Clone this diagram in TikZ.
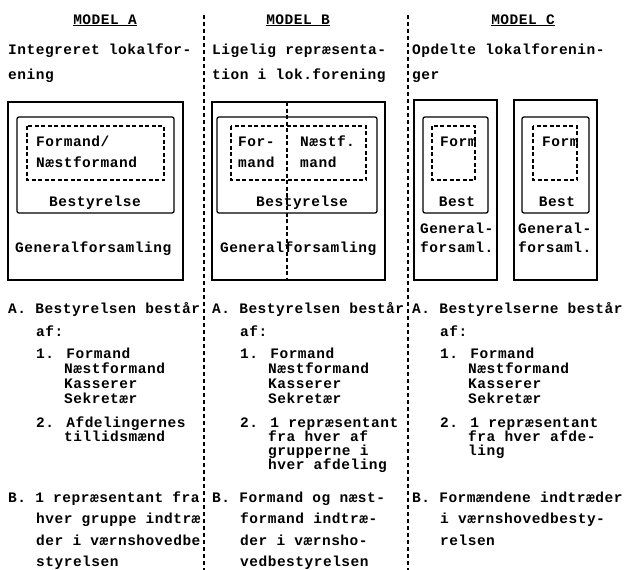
\documentclass[tikz,border=0pt]{standalone}
\usepackage{fontspec}
\setmainfont{Liberation Mono}[LetterSpace=3.5]
\newcommand\twfont{\fontsize{14.5}{14}\selectfont\bfseries}
\begin{document}
\begin{tikzpicture}[x=1pt,y=-1pt,
  txt/.style={anchor=base west, inner sep=0pt, font=\twfont},
  ctxt/.style={anchor=base, inner sep=0pt, font=\twfont},
  solidbox/.style={draw, line width=1.3pt},
  innerbox/.style={draw, line width=1.3pt, rounded corners=2pt},
  dashbox/.style={draw, line width=1.3pt, dash pattern=on 4pt off 2.5pt},
  sep/.style={line width=1.1pt, dash pattern=on 4pt off 3pt}]
\useasboundingbox (0,0) rectangle (627,570);
% column separators
\coordinate (s1t) at (204,15); \coordinate (s1b) at (204,570);
\coordinate (s2t) at (408,15); \coordinate (s2b) at (408,570);
\draw[sep] (s1t) -- (s1b);
\draw[sep] (s2t) -- (s2b);
% titles
\node[ctxt] (tA) at (105,24) {\underline{MODEL A}};
\node[ctxt] (tB) at (298,24) {\underline{MODEL B}};
\node[ctxt] (tC) at (523,24) {\underline{MODEL C}};
\node[txt] (hA1) at (8,54) {Integreret lokalfor-};
\node[txt] (hA2) at (8,79) {ening};
\node[txt] (hB1) at (212,54) {Ligelig repræsenta-};
\node[txt] (hB2) at (212,79) {tion i lok.forening};
\node[txt] (hC1) at (412,54) {Opdelte lokalforenin-};
\node[txt] (hC2) at (412,79) {ger};
% Model A boxes
\draw[solidbox] (8,102) rectangle (183,280);
\draw[innerbox] (17,117) rectangle (174,213);
\draw[dashbox] (27,126) rectangle (164,180);
\node[txt] (a1) at (36,146) {Formand/};
\node[txt] (a2) at (36,167) {Næstformand};
\node[ctxt] (a3) at (95,206) {Bestyrelse};
\node[txt] (a4) at (15,252) {Generalforsamling};
% Model B boxes
\draw[solidbox] (212,102) rectangle (385,280);
\draw[innerbox] (217,117) rectangle (377,213);
\draw[dashbox] (231,126) rectangle (366,180);
\coordinate (bvt) at (287,102); \coordinate (bvb) at (287,280);
\draw[dashbox] (bvt) -- (bvb);
\node[txt] (b1) at (238,146) {For-};
\node[txt] (b2) at (238,167) {mand};
\node[txt] (b3) at (300,146) {Næstf.};
\node[txt] (b4) at (300,167) {mand};
\node[ctxt] (b5) at (302,206) {Bestyrelse};
\node[txt] (b6) at (220,252) {Generalforsamling};
% Model C boxes
\draw[solidbox] (414,100) rectangle (497,280);
\draw[innerbox] (423,117) rectangle (488,213);
\draw[dashbox] (432,126) rectangle (475,180);
\node[txt] (c1) at (440,146) {Form};
\node[ctxt] (c2) at (457,206) {Best};
\node[txt] (c3) at (420,233) {General-};
\node[txt] (c4) at (420,252) {forsaml.};
\draw[solidbox] (514,100) rectangle (597,280);
\draw[innerbox] (522,117) rectangle (589,213);
\draw[dashbox] (533,126) rectangle (577,180);
\node[txt] (d1) at (542,146) {Form};
\node[ctxt] (d2) at (557,206) {Best};
\node[txt] (d3) at (518,233) {General-};
\node[txt] (d4) at (518,252) {forsaml.};
% Column A lower text
\node[txt] (la1) at (8,313) {A. Bestyrelsen består};
\node[txt] (la2) at (36,336) {af:};
\node[txt] (la3) at (36,358) {1. Formand};
\node[txt] (la4) at (64,373) {Næstformand};
\node[txt] (la5) at (64,388) {Kasserer};
\node[txt] (la6) at (64,403) {Sekretær};
\node[txt] (la7) at (36,427) {2. Afdelingernes};
\node[txt] (la8) at (64,441) {tillidsmænd};
\node[txt] (la9) at (8,502) {B. 1 repræsentant fra};
\node[txt] (la10) at (36,523) {hver gruppe indtræ};
\node[txt] (la11) at (36,545) {der i værnshovedbe};
\node[txt] (la12) at (36,566) {styrelsen};
% Column B lower text
\node[txt] (lb1) at (212,313) {A. Bestyrelsen består};
\node[txt] (lb2) at (240,336) {af:};
\node[txt] (lb3) at (240,358) {1. Formand};
\node[txt] (lb4) at (268,373) {Næstformand};
\node[txt] (lb5) at (268,388) {Kasserer};
\node[txt] (lb6) at (268,403) {Sekretær};
\node[txt] (lb7) at (240,427) {2. 1 repræsentant};
\node[txt] (lb8) at (268,441) {fra hver af};
\node[txt] (lb9) at (268,455) {grupperne i};
\node[txt] (lb10) at (268,469) {hver afdeling};
\node[txt] (lb11) at (212,502) {B. Formand og næst-};
\node[txt] (lb12) at (240,523) {formand indtræ-};
\node[txt] (lb13) at (240,545) {der i værnsho-};
\node[txt] (lb14) at (240,566) {vedbestyrelsen};
% Column C lower text
\node[txt] (lc1) at (412,313) {A. Bestyrelserne består};
\node[txt] (lc2) at (440,336) {af:};
\node[txt] (lc3) at (440,358) {1. Formand};
\node[txt] (lc4) at (468,373) {Næstformand};
\node[txt] (lc5) at (468,388) {Kasserer};
\node[txt] (lc6) at (468,403) {Sekretær};
\node[txt] (lc7) at (440,427) {2. 1 repræsentant};
\node[txt] (lc8) at (468,441) {fra hver afde-};
\node[txt] (lc9) at (468,455) {ling};
\node[txt] (lc10) at (412,502) {B. Formændene indtræder};
\node[txt] (lc11) at (440,523) {i værnshovedbesty-};
\node[txt] (lc12) at (440,545) {relsen};
\end{tikzpicture}
\end{document}
